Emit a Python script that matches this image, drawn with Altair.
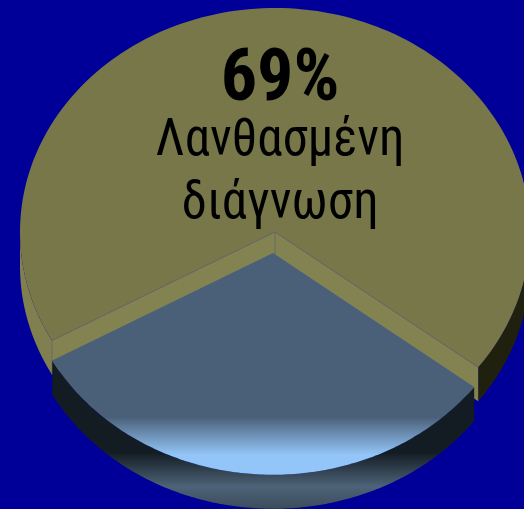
import numpy as np
import pandas as pd
import altair as alt

# Pie shares, in percent
shares = [69, 31]
caption_lines = ["Λανθασμένη", "διάγνωση"]

# Pixel layout of the tilted pie
W, H = 524, 509
CX, CY = 275, 232
RX, RY = 255, 224
DEPTH = 34 / RY          # thickness of the disc
EXPLODE = 21 / RY        # how far the small slice is pulled out
NEAR_SQUASH = 0.99       # the pulled-out slice is slightly flatter
NEAR_WIDTH = 0.99        # and slightly narrower
NEAR_SHIFT = -2 / RX
FORESHORTEN = 1.02       # the near slice looks a little wider under tilt
SLICE_START = 209        # degrees, the left corner of the small slice

x_scale = alt.Scale(domain=[(0 - CX) / RX, (W - CX) / RX], nice=False, zero=False)
y_scale = alt.Scale(domain=[(CY - H) / RY, CY / RY], nice=False, zero=False)

OLIVE_TOP = "#77774a"
OLIVE_WALL = "#7f7f50"
OLIVE_FACE = "#838352"
OLIVE_DARK = "#20200f"
EDGE = "#666b66"
BLUE_BG = "#000099"
SLATE = "#4a6078"


def arc(a0, a1, dy=0.0, dx=0.0, squash=1.0, width=1.0):
    t = np.radians(np.linspace(a0, a1, 160))
    return list(np.cos(t) * width + dx), list(np.sin(t) * squash + dy)


def frame(xs, ys):
    return pd.DataFrame({"x": xs, "y": ys, "i": range(len(xs))})


def sector(a0, a1, dy=0.0, dx=0.0, squash=1.0, width=1.0):
    xs, ys = arc(a0, a1, dy, dx, squash, width)
    return frame([dx] + xs, [dy] + ys)


def wall(a0, a1, top_dy, depth, dx=0.0, squash=1.0, width=1.0):
    xs, ys = arc(a0, a1, top_dy, dx, squash, width)
    xb, yb = arc(a1, a0, top_dy - depth, dx, squash, width)
    return frame(xs + xb, ys + yb)


def shape(df, fill):
    return (
        alt.Chart(df)
        .mark_line(fill=fill, stroke=OLIVE_TOP, strokeWidth=0, clip=True, interpolate="linear")
        .encode(
            x=alt.X("x:Q", scale=x_scale, axis=None),
            y=alt.Y("y:Q", scale=y_scale, axis=None),
            order=alt.Order("i:Q"),
        )
    )


def edge(xs, ys):
    return (
        alt.Chart(frame(xs, ys))
        .mark_line(stroke=EDGE, strokeWidth=1, clip=True)
        .encode(
            x=alt.X("x:Q", scale=x_scale, axis=None),
            y=alt.Y("y:Q", scale=y_scale, axis=None),
            order=alt.Order("i:Q"),
        )
    )


def gradient(stops):
    return alt.Gradient(
        gradient="linear", x1=0, y1=0, x2=0, y2=1,
        stops=[alt.GradientStop(offset=o, color=c) for o, c in stops],
    )


big, small = shares
a_left = SLICE_START
a_right = a_left + small * 3.6 * FORESHORTEN
a_end = a_left + 360

lx, ly = np.cos(np.radians(a_left)), np.sin(np.radians(a_left))
rx, ry = np.cos(np.radians(a_right)), np.sin(np.radians(a_right))

layers = [
    # Outer rim of the large slice: lit on the left, in shadow on the right
    shape(wall(180, a_left, 0, DEPTH), OLIVE_WALL),
    shape(wall(a_right, 360, 0, DEPTH), OLIVE_DARK),
    shape(sector(a_right, a_end), OLIVE_TOP),
    # Cut faces of the large slice
    shape(frame([0.0, lx, lx, 0.0], [0.0, ly, ly - DEPTH, -DEPTH]), OLIVE_FACE),
    shape(frame([0.0, rx, rx, 0.0], [0.0, ry, ry - DEPTH, -DEPTH]), OLIVE_FACE),
    edge([lx, 0.0, rx], [ly, 0.0, ry]),
    edge([0.0, 0.0], [0.0, -DEPTH]),
    edge([lx, lx], [ly, ly - DEPTH]),
    # The small slice, pulled towards the viewer
    shape(
        wall(a_left, a_right, -EXPLODE, DEPTH, NEAR_SHIFT, NEAR_SQUASH, NEAR_WIDTH),
        gradient([(0, "#131c22"), (0.62, "#131c22"), (0.85, "#4d6378"), (1, "#3c4c5c")]),
    ),
    shape(
        sector(a_left, a_right, -EXPLODE, NEAR_SHIFT, NEAR_SQUASH, NEAR_WIDTH),
        gradient([(0, SLATE), (0.74, SLATE), (0.91, "#93c5f8"), (1, "#93c5f8")]),
    ),
]

FONT = "Roboto Condensed, Roboto, Liberation Sans"
text_rows = [
    (f"{big}%", 72, "bold", 100),
    (caption_lines[0], 51, "normal", 155),
    (caption_lines[1], 51, "normal", 218),
]
for label, size, weight, baseline_y in text_rows:
    layers.append(
        alt.Chart(pd.DataFrame({"label": [label]}))
        .mark_text(
            font=FONT, fontSize=size, fontWeight=weight, color="#000000",
            align="center", baseline="alphabetic",
        )
        .encode(text="label:N", x=alt.value(280), y=alt.value(baseline_y))
    )

chart = (
    alt.layer(*layers)
    .properties(
        width=W, height=H, padding=0, background=BLUE_BG,
        autosize=alt.AutoSizeParams(type="none"),
    )
    .configure_view(stroke=None)
)

chart.save("out.html", embed_options={"renderer": "svg", "actions": False})
